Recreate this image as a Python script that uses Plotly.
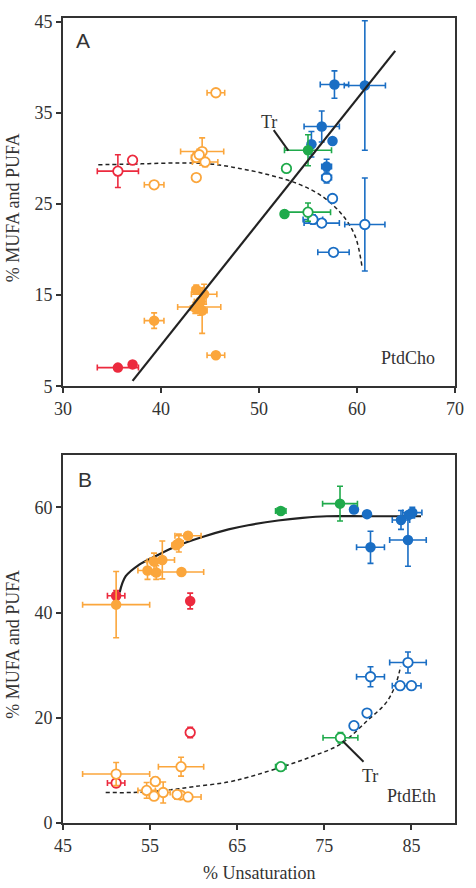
import plotly.graph_objects as go

RED = "#ec2a3e"
ORANGE = "#fba63c"
GREEN = "#1faa4b"
BLUE = "#1a6ec4"
INK = "#333333"

# ---------------- Panel A (PtdCho) ----------------
# each: x, y, x-error, y-error
a_red_filled_x = [35.6, 37.1]
a_red_filled_y = [7.05, 7.4]
a_red_filled_ex = [2.1, 0.3]
a_red_filled_ey = [0.0, 0.3]

a_red_open_x = [35.6, 37.1]
a_red_open_y = [28.6, 29.8]
a_red_open_ex = [2.1, 0.3]
a_red_open_ey = [1.8, 0.4]

a_or_filled_x = [45.6, 39.3, 43.6, 44.4, 43.9, 44.2, 44.0, 43.5]
a_or_filled_y = [8.4, 12.2, 15.6, 15.1, 13.7, 13.3, 14.3, 13.6]
a_or_filled_ex = [0.9, 1.0, 0.4, 1.3, 2.2, 0.5, 0.6, 0.5]
a_or_filled_ey = [0.3, 0.85, 0.5, 1.1, 0.6, 2.5, 1.5, 0.6]

a_or_open_x = [45.6, 39.3, 44.2, 43.6, 44.5, 43.6, 43.9]
a_or_open_y = [37.2, 27.1, 30.75, 30.1, 29.6, 27.9, 30.4]
a_or_open_ex = [0.9, 1.0, 2.2, 0.5, 1.3, 0.3, 0.6]
a_or_open_ey = [0.3, 0.3, 1.5, 0.5, 0.5, 0.3, 0.6]

a_gr_filled_x = [55.0, 52.6]
a_gr_filled_y = [30.9, 23.9]
a_gr_filled_ex = [2.4, 0.3]
a_gr_filled_ey = [1.7, 0.3]

a_gr_open_x = [52.8, 55.0]
a_gr_open_y = [28.9, 24.1]
a_gr_open_ex = [0.3, 2.3]
a_gr_open_ey = [0.3, 1.0]

a_bl_filled_x = [60.8, 57.7, 56.4, 57.5, 55.35, 56.9]
a_bl_filled_y = [38.0, 38.1, 33.5, 31.9, 31.55, 29.1]
a_bl_filled_ex = [2.1, 1.45, 1.8, 0.0, 0.3, 0.5]
a_bl_filled_ey = [7.1, 1.5, 1.7, 0.0, 1.4, 0.8]

a_bl_open_x = [56.9, 57.5, 56.4, 55.5, 60.8, 57.6]
a_bl_open_y = [27.9, 25.6, 22.9, 23.3, 22.75, 19.7]
a_bl_open_ex = [0.5, 0.0, 1.8, 1.0, 2.05, 1.6]
a_bl_open_ey = [0.6, 0.0, 0.4, 0.5, 5.1, 0.3]

a_fit_x = [37.1, 63.9]
a_fit_y = [5.6, 41.8]
a_dash_x = [33.6, 38, 42, 45, 48, 51, 54, 56.5, 58.5, 59.8, 60.5]
a_dash_y = [29.3, 29.4, 29.5, 29.4, 28.9, 28.2, 27.2, 25.8, 23.8, 21.5, 18.2]

# ---------------- Panel B (PtdEth) ----------------
b_red_filled_x = [51.1, 59.6]
b_red_filled_y = [43.2, 42.2]
b_red_filled_ex = [1.0, 0.3]
b_red_filled_ey = [1.0, 1.5]

b_red_open_x = [51.1, 59.6]
b_red_open_y = [7.6, 17.2]
b_red_open_ex = [1.0, 0.3]
b_red_open_ey = [0.8, 1.0]

b_or_filled_x = [51.1, 58.6, 59.35, 58.3, 58.0, 56.4, 55.45, 54.7, 55.7]
b_or_filled_y = [41.5, 47.7, 54.6, 53.2, 52.8, 50.0, 49.7, 48.0, 47.6]
b_or_filled_ex = [3.85, 2.55, 1.5, 0.5, 0.5, 1.4, 0.8, 1.1, 0.5]
b_or_filled_ey = [6.3, 0.5, 0.6, 1.7, 0.5, 3.6, 1.6, 1.7, 1.3]

b_or_open_x = [51.1, 58.55, 55.6, 54.6, 55.45, 56.5, 58.5, 59.35, 58.1]
b_or_open_y = [9.3, 10.7, 7.9, 6.2, 5.1, 5.8, 5.3, 4.95, 5.4]
b_or_open_ex = [3.85, 2.6, 0.5, 1.0, 0.5, 0.8, 0.8, 1.5, 0.4]
b_or_open_ey = [2.2, 1.8, 0.8, 1.5, 0.6, 2.0, 0.4, 0.3, 0.3]

b_gr_filled_x = [70.0, 76.8]
b_gr_filled_y = [59.3, 60.7]
b_gr_filled_ex = [0.6, 2.0]
b_gr_filled_ey = [0.3, 3.3]

b_gr_open_x = [70.0, 76.85]
b_gr_open_y = [10.7, 16.2]
b_gr_open_ex = [0.6, 2.0]
b_gr_open_ey = [0.3, 1.0]

b_bl_filled_x = [78.4, 79.9, 80.3, 83.8, 85.1, 84.6, 84.7]
b_bl_filled_y = [59.6, 58.7, 52.4, 57.6, 59.0, 53.8, 58.6]
b_bl_filled_ex = [0.0, 0.0, 1.6, 1.0, 1.1, 2.1, 0.3]
b_bl_filled_ey = [0.0, 0.0, 3.05, 1.8, 1.0, 5.0, 0.3]

b_bl_open_x = [78.4, 79.9, 80.3, 83.7, 85.0, 84.6]
b_bl_open_y = [18.5, 20.9, 27.8, 26.1, 26.1, 30.5]
b_bl_open_ex = [0.0, 0.0, 1.6, 0.9, 1.1, 2.1]
b_bl_open_ey = [0.0, 0.0, 1.9, 0.5, 0.3, 2.0]

b_fit_x = [51.5, 52.2, 53.75, 55.6, 58, 60.9, 64, 66.25, 69.7, 72.5, 75.3, 80, 86.1]
b_fit_y = [43.8, 46.9, 49.1, 50.7, 52.6, 54.3, 55.8, 56.6, 57.5, 58.0, 58.3, 58.3, 58.3]
b_dash_x = [49.9, 53, 56.8, 60, 64, 66.25, 70, 73.5, 76.85, 79.9, 82.2, 83.3, 83.75]
b_dash_y = [5.8, 5.8, 6.2, 6.9, 7.8, 8.7, 10.6, 12.6, 15.0, 19.4, 23.1, 26.9, 29.8]

fig = go.Figure()


def pts(x, y, ex, ey, color, filled, xa, ya):
    fig.add_trace(go.Scatter(
        x=x, y=y, mode="markers", xaxis=xa, yaxis=ya, showlegend=False,
        error_x=dict(type="data", array=ex, color=color, thickness=1.6, width=3),
        error_y=dict(type="data", array=ey, color=color, thickness=1.6, width=3),
        marker=dict(size=10.5 if filled else 9.5, color=color if filled else "white",
                    line=dict(color=color, width=0 if filled else 1.8)),
    ))


def line(x, y, xa, ya, dash, shape):
    fig.add_trace(go.Scatter(
        x=x, y=y, mode="lines", xaxis=xa, yaxis=ya, showlegend=False,
        line=dict(color="#222222", width=2.2 if dash == "solid" else 1.5, dash=dash,
                  shape=shape, smoothing=1.0),
    ))


DASH = "4px,3px"

# Panel A
line(a_dash_x, a_dash_y, "x", "y", DASH, "spline")
pts(a_red_open_x, a_red_open_y, a_red_open_ex, a_red_open_ey, RED, False, "x", "y")
pts(a_or_open_x, a_or_open_y, a_or_open_ex, a_or_open_ey, ORANGE, False, "x", "y")
pts(a_bl_open_x, a_bl_open_y, a_bl_open_ex, a_bl_open_ey, BLUE, False, "x", "y")
pts(a_gr_open_x, a_gr_open_y, a_gr_open_ex, a_gr_open_ey, GREEN, False, "x", "y")
pts(a_red_filled_x, a_red_filled_y, a_red_filled_ex, a_red_filled_ey, RED, True, "x", "y")
pts(a_or_filled_x, a_or_filled_y, a_or_filled_ex, a_or_filled_ey, ORANGE, True, "x", "y")
pts(a_bl_filled_x, a_bl_filled_y, a_bl_filled_ex, a_bl_filled_ey, BLUE, True, "x", "y")
pts(a_gr_filled_x, a_gr_filled_y, a_gr_filled_ex, a_gr_filled_ey, GREEN, True, "x", "y")
line(a_fit_x, a_fit_y, "x", "y", "solid", "linear")

# Panel B
line(b_dash_x, b_dash_y, "x2", "y2", DASH, "spline")
line(b_fit_x, b_fit_y, "x2", "y2", "solid", "spline")
pts(b_red_open_x, b_red_open_y, b_red_open_ex, b_red_open_ey, RED, False, "x2", "y2")
pts(b_or_open_x, b_or_open_y, b_or_open_ex, b_or_open_ey, ORANGE, False, "x2", "y2")
pts(b_bl_open_x, b_bl_open_y, b_bl_open_ex, b_bl_open_ey, BLUE, False, "x2", "y2")
pts(b_gr_open_x, b_gr_open_y, b_gr_open_ex, b_gr_open_ey, GREEN, False, "x2", "y2")
pts(b_red_filled_x, b_red_filled_y, b_red_filled_ex, b_red_filled_ey, RED, True, "x2", "y2")
pts(b_or_filled_x, b_or_filled_y, b_or_filled_ex, b_or_filled_ey, ORANGE, True, "x2", "y2")
pts(b_bl_filled_x, b_bl_filled_y, b_bl_filled_ex, b_bl_filled_ey, BLUE, True, "x2", "y2")
pts(b_gr_filled_x, b_gr_filled_y, b_gr_filled_ex, b_gr_filled_ey, GREEN, True, "x2", "y2")

SERIF = "Liberation Serif, Times New Roman, serif"
axis_common = dict(showgrid=False, zeroline=False, showline=True, mirror=True,
                   linecolor=INK, linewidth=1.8, ticks="outside", ticklen=5,
                   tickwidth=1.6, tickcolor=INK,
                   tickfont=dict(family=SERIF, size=18, color=INK))

fig.update_layout(
    width=476, height=888,
    margin=dict(l=63, r=19, t=12, b=65),
    paper_bgcolor="white", plot_bgcolor="white",
    xaxis=dict(domain=[0, 1], range=[30, 70], tickvals=[30, 40, 50, 60, 70],
               anchor="y", **axis_common),
    yaxis=dict(domain=[0.5425, 1], range=[5, 45.4], tickvals=[5, 15, 25, 35, 45],
               anchor="x", **axis_common),
    xaxis2=dict(domain=[0, 1], range=[45, 90], tickvals=[45, 55, 65, 75, 85],
                anchor="y2", **axis_common),
    yaxis2=dict(domain=[0, 0.4575], range=[0, 70], tickvals=[0, 20, 40, 60],
                anchor="x2", **axis_common),
    showlegend=False,
)

ann_font = dict(family=SERIF, size=18, color=INK)
SANS = dict(family="Liberation Sans, Arial, sans-serif", size=21, color=INK)
fig.add_annotation(text="A", x=32.0, y=42.9, xref="x", yref="y", showarrow=False, font=SANS)
fig.add_annotation(text="B", x=47.5, y=65.2, xref="x2", yref="y2", showarrow=False, font=SANS)
fig.add_annotation(text="PtdCho", x=65.2, y=8.1, xref="x", yref="y", showarrow=False, font=ann_font)
fig.add_annotation(text="PtdEth", x=85.0, y=5.1, xref="x2", yref="y2", showarrow=False, font=ann_font)
fig.add_annotation(text="Tr", x=51.0, y=34.0, xref="x", yref="y", showarrow=False, font=ann_font)
fig.add_annotation(text="Tr", x=80.2, y=9.0, xref="x2", yref="y2", showarrow=False, font=ann_font)
fig.add_shape(type="line", x0=51.5, y0=33.1, x1=53.0, y1=30.85, xref="x", yref="y",
              line=dict(color="#222222", width=2))
fig.add_shape(type="line", x0=77.1, y0=15.6, x1=79.5, y1=11.65, xref="x2", yref="y2",
              line=dict(color="#222222", width=2))

fig.add_annotation(text="% MUFA and PUFA", xref="paper", yref="paper", x=0, xshift=-50,
                   xanchor="center", yanchor="middle", yshift=-6,
                   y=0.5425 + (1 - 0.5425) / 2, textangle=-90, showarrow=False, font=ann_font)
fig.add_annotation(text="% MUFA and PUFA", xref="paper", yref="paper", x=0, xshift=-50,
                   xanchor="center", yanchor="middle", yshift=-6,
                   y=0.4575 / 2, textangle=-90, showarrow=False, font=ann_font)
fig.add_annotation(text="% Unsaturation", xref="paper", yref="paper", x=0.5, y=0,
                   xanchor="center", yanchor="middle",
                   yshift=-50, showarrow=False, font=ann_font)

fig.write_html("out.html")
